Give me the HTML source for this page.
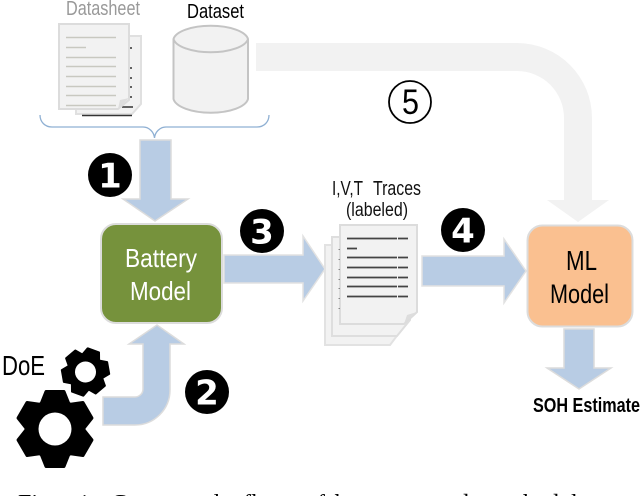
<!DOCTYPE html>
<html><head><meta charset="utf-8"><style>
html,body{margin:0;padding:0;background:#fff;width:640px;height:496px;overflow:hidden}
svg{display:block}
text{font-family:"Liberation Sans",sans-serif}
</style></head><body>
<svg width="640" height="496" viewBox="0 0 640 496" xmlns="http://www.w3.org/2000/svg">
<!-- gray arrow 5 -->
<path d="M256 43H517A75 75 0 0 1 592 118V200H609L578 222L547 200H564V118A47 47 0 0 0 517 71H256Z" fill="#f2f2f2"/>
<!-- datasheet docs -->
<path d="M76 36H141V104L132 114H76Z" fill="#f2f2f2" stroke="#e0e0e0" stroke-width="2"/>
<g stroke="#333" stroke-width="1.5"><path d="M130 48h2M130 68h2M130 78h2M130 87h2M130 97h2M122 107h11M82 115.500h50"/></g>
<path d="M59 24H129V100L118 109H59Z" fill="#f2f2f2" stroke="#dcdcdc" stroke-width="2"/>
<path d="M118 109L120 100L129 98Z" fill="#ddd"/>
<g stroke="#c8c8c0" stroke-width="1.500"><path d="M66 37.500h50M66 47.500h20M66 57.500h50M66 66.500h50M66 76.500h50M66 86.500h50M66 95.500h50M66 105.500h50"/></g>
<!-- cylinder -->
<path d="M173.500 39A37.500 15 0 0 1 248 39V99A37.500 15.500 0 0 1 173.500 99Z" fill="#f2f2f2" stroke="#c4c4c4" stroke-width="2"/>
<path d="M173.500 39A37.500 15 0 0 0 248 39" fill="none" stroke="#c4c4c4" stroke-width="2"/>
<!-- brace -->
<path d="M40 115C40 122 45 127 52 127H143C149 127 154 132 154.500 138C155 132 160 127 166 127H257C264 127 269 122 269 115" fill="none" stroke="#8fb0d3" stroke-width="1.300"/>
<!-- arrow 1 -->
<path d="M140 140H171V199H188L155 221L123 199H140Z" fill="#b8cce4" stroke="#dcdcdc" stroke-width="1.500"/>
<!-- battery box -->
<rect x="101" y="224" width="121" height="99" rx="15" fill="#76923c" stroke="#dcdcdc" stroke-width="2"/>
<text x="125" y="267" font-size="26" fill="#fff" textLength="72" lengthAdjust="spacingAndGlyphs">Battery</text>
<text x="130" y="300" font-size="26" fill="#fff" textLength="61" lengthAdjust="spacingAndGlyphs">Model</text>
<!-- arrow 3 -->
<path d="M224 255H303V236L325 269L303 301V283H224Z" fill="#b8cce4" stroke="#e2e2e2" stroke-width="1.500"/>
<!-- arrow 4 -->
<path d="M422 256H504V239L526 271L504 303V286H422Z" fill="#b8cce4" stroke="#e2e2e2" stroke-width="1.500"/>
<!-- traces docs -->
<path d="M325 245H405V325L390 345H325Z" fill="#f2f2f2" stroke="#e2e2e2" stroke-width="2"/>
<path d="M332 237H410V320L397 336H332Z" fill="#f2f2f2" stroke="#dedede" stroke-width="2"/>
<path d="M340 225H417V312L404 324H340Z" fill="#f2f2f2" stroke="#dcdcdc" stroke-width="2"/>
<path d="M404 324L407 315L417 312Z" fill="#ddd"/>
<g stroke="#444" stroke-width="1.700"><path d="M347 238.500h50M398 238.500h10M347 248.500h10M347 257.500h50M398 257.500h10M347 267.500h50M398 267.500h10M347 277.500h50M398 277.500h10M347 286.500h50M398 286.500h10M347 296.500h50M398 296.500h10"/></g>
<g stroke="#888" stroke-width="1"><path d="M338.500 249.500h1.500M338.500 259.500h1.500M338.500 269.500h1.500M338.500 279.500h1.500M338.500 288.500h1.500M338.500 298.500h1.500M338.500 308.500h1.500"/></g>
<!-- ML box -->
<rect x="527.500" y="225.500" width="105" height="101" rx="15" fill="#fac090" stroke="#dcdcdc" stroke-width="2"/>
<text x="566" y="270" font-size="28" fill="#000" textLength="31" lengthAdjust="spacingAndGlyphs">ML</text>
<text x="550" y="303" font-size="27" fill="#000" textLength="59" lengthAdjust="spacingAndGlyphs">Model</text>
<!-- output arrow -->
<path d="M564 329H594V368H611L579 389L547 368H564Z" fill="#b8cce4" stroke="#dcdcdc" stroke-width="1.500"/>
<text x="533" y="412" font-size="20" font-weight="bold" fill="#000" textLength="107" lengthAdjust="spacingAndGlyphs">SOH Estimate</text>
<!-- arrow 2 -->
<path d="M103 397H135A8 8 0 0 0 143 389V344H129L157 325L184 344H170V390A35 35 0 0 1 135 425H103Z" fill="#b8cce4" stroke="#dcdcdc" stroke-width="1.500"/>
<!-- labels -->
<text x="66" y="15" font-size="20" fill="#999" textLength="74" lengthAdjust="spacingAndGlyphs">Datasheet</text>
<text x="187" y="18" font-size="20" fill="#000" textLength="57" lengthAdjust="spacingAndGlyphs">Dataset</text>
<text x="332" y="195" font-size="20" fill="#111" textLength="31" lengthAdjust="spacingAndGlyphs">I,V,T</text>
<text x="373" y="195" font-size="20" fill="#111" textLength="48" lengthAdjust="spacingAndGlyphs">Traces</text>
<text x="346" y="216" font-size="19" fill="#111" textLength="62" lengthAdjust="spacingAndGlyphs">(labeled)</text>
<text x="2" y="375" font-size="28" fill="#000" textLength="43" lengthAdjust="spacingAndGlyphs">DoE</text>
<!-- badges -->
<g text-anchor="middle" font-weight="bold" fill="#fff" font-size="34">
<circle cx="110" cy="175" r="22" fill="#000"/><text x="110" y="187.500" style='font-family:"DejaVu Sans",sans-serif'>1</text>
<circle cx="207" cy="392" r="22" fill="#000"/><text x="207" y="404.500" style='font-family:"DejaVu Sans",sans-serif'>2</text>
<circle cx="262" cy="231" r="22" fill="#000"/><text x="262" y="243.500" style='font-family:"DejaVu Sans",sans-serif'>3</text>
<circle cx="463" cy="230" r="22" fill="#000"/><text x="463" y="242.500" style='font-family:"DejaVu Sans",sans-serif'>4</text>
</g>
<circle cx="410" cy="102" r="21" fill="#fff" stroke="#000" stroke-width="1.800"/>
<text x="402" y="114" font-size="35" fill="#000" textLength="17" lengthAdjust="spacingAndGlyphs">5</text>
<!-- big gear -->
<g transform="translate(55 429)" fill="#000" stroke="#000" stroke-width="3" stroke-linejoin="round">
<circle r="29"/>
<path d="M-14 -25L-9 -37.500H9L14 -25Z"/>
<path d="M-14 -25L-9 -37.500H9L14 -25Z" transform="rotate(60)"/>
<path d="M-14 -25L-9 -37.500H9L14 -25Z" transform="rotate(120)"/>
<path d="M-14 -25L-9 -37.500H9L14 -25Z" transform="rotate(180)"/>
<path d="M-14 -25L-9 -37.500H9L14 -25Z" transform="rotate(240)"/>
<path d="M-14 -25L-9 -37.500H9L14 -25Z" transform="rotate(300)"/>
<circle r="16.500" fill="#fff" stroke="none"/>
</g>
<!-- small gear -->
<g transform="translate(85.500 372) rotate(20)" fill="#000" stroke="#000" stroke-width="2" stroke-linejoin="round">
<circle r="18"/>
<path d="M-9 -15L-6 -23H6L9 -15Z"/>
<path d="M-9 -15L-6 -23H6L9 -15Z" transform="rotate(60)"/>
<path d="M-9 -15L-6 -23H6L9 -15Z" transform="rotate(120)"/>
<path d="M-9 -15L-6 -23H6L9 -15Z" transform="rotate(180)"/>
<path d="M-9 -15L-6 -23H6L9 -15Z" transform="rotate(240)"/>
<path d="M-9 -15L-6 -23H6L9 -15Z" transform="rotate(300)"/>
<circle r="10.500" fill="#fff" stroke="none"/>
</g>
<!-- caption, clipped by the bottom edge -->
<text y="511" font-size="24" fill="#000" style='font-family:"Liberation Serif",serif'><tspan x="18">Fig.</tspan><tspan x="78">1:</tspan><tspan x="111">Conceptual</tspan><tspan x="243">flow</tspan><tspan x="305">of</tspan><tspan x="328">the</tspan><tspan x="381">proposed</tspan><tspan x="487">methodol</tspan></text>
</svg>
</body></html>
